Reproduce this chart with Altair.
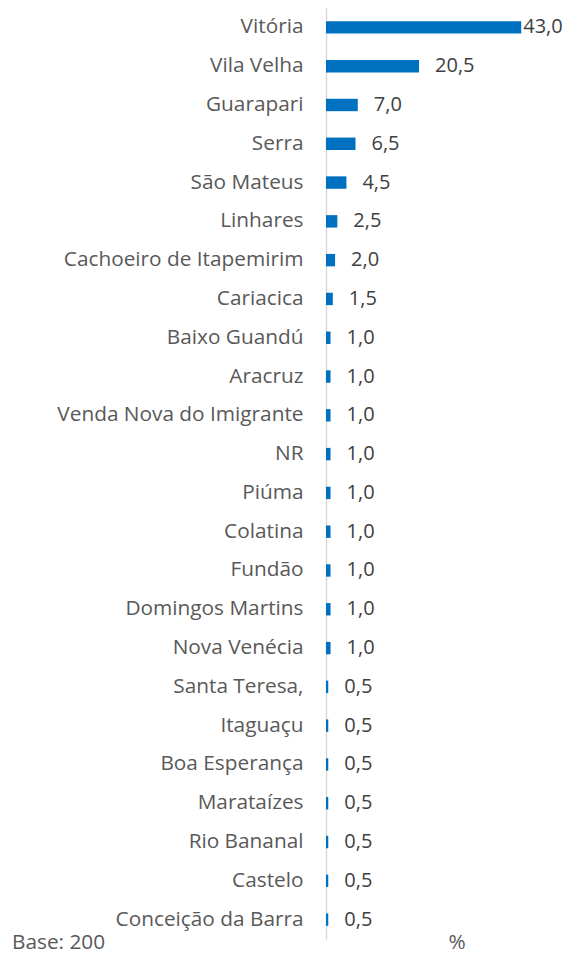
import altair as alt
import pandas as pd

categories = ["Vitória", "Vila Velha", "Guarapari", "Serra", "São Mateus", "Linhares",
              "Cachoeiro de Itapemirim", "Cariacica", "Baixo Guandú", "Aracruz",
              "Venda Nova do Imigrante", "NR", "Piúma", "Colatina", "Fundão",
              "Domingos Martins", "Nova Venécia", "Santa Teresa,", "Itaguaçu",
              "Boa Esperança", "Marataízes", "Rio Bananal", "Castelo", "Conceição da Barra"]
values = [43.0, 20.5, 7.0, 6.5, 4.5, 2.5, 2.0, 1.5, 1.0, 1.0, 1.0, 1.0, 1.0, 1.0, 1.0,
          1.0, 1.0, 0.5, 0.5, 0.5, 0.5, 0.5, 0.5, 0.5]
labels = [f"{v:.1f}".replace(".", ",") for v in values]

df = pd.DataFrame({"cat": categories, "val": values, "lab": labels})

FONT = "Open Sans"
x_scale = alt.Scale(domain=[0, 50], nice=False, zero=True)
y_enc = alt.Y("cat:N", sort=categories,
              scale=alt.Scale(paddingInner=0.68, paddingOuter=0.34),
              axis=alt.Axis(title=None, ticks=False, labelFontSize=20.8,
                            labelFont=FONT, labelColor="#595959", labelPadding=23,
                            domainColor="#d9d9d9", domainWidth=1.5, labelLimit=400))

base = alt.Chart(df)
bars = base.mark_bar(color="#0070C0").encode(
    x=alt.X("val:Q", scale=x_scale, axis=None),
    y=y_enc,
)
txt_small = base.transform_filter("datum.val < 40").mark_text(
    align="left", baseline="middle", dx=16, fontSize=20, font=FONT, color="#404040"
).encode(x=alt.X("val:Q", scale=x_scale), y=alt.Y("cat:N", sort=categories), text="lab:N")
txt_big = base.transform_filter("datum.val >= 40").mark_text(
    align="left", baseline="middle", dx=2, fontSize=20, font=FONT, color="#404040"
).encode(x=alt.X("val:Q", scale=x_scale), y=alt.Y("cat:N", sort=categories), text="lab:N")

base_note = alt.Chart(pd.DataFrame({"t": ["Base: 200"]})).mark_text(
    align="left", baseline="alphabetic", fontSize=20.8, font=FONT, color="#595959"
).encode(x=alt.value(-314), y=alt.value(941), text="t:N")
pct_note = alt.Chart(pd.DataFrame({"t": ["%"]})).mark_text(
    align="center", baseline="alphabetic", fontSize=20.8, font=FONT, color="#595959"
).encode(x=alt.value(131), y=alt.value(941), text="t:N")

chart = alt.layer(bars, txt_small, txt_big, base_note, pct_note).properties(
    width=227, height=931,
    autosize=alt.AutoSizeParams(type="none"),
    padding={"left": 318, "top": 0, "right": 11, "bottom": 16},
).configure_view(stroke=None)

chart.save("out.html", embed_options={"renderer": "svg", "actions": False})
